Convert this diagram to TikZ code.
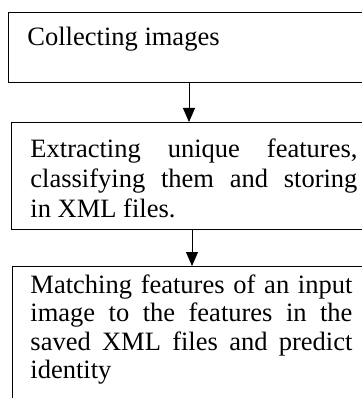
\documentclass[tikz,border=0pt]{standalone}
\usepackage{fontspec}
\setmainfont{Liberation Serif}
\usetikzlibrary{arrows.meta}

\begin{document}
\begin{tikzpicture}[x=1pt, y=-1pt,
					stage/.style={draw, line width=0.9pt, anchor=north west, align=justify,
						inner xsep=19pt, inner ysep=0pt, font=\fontsize{26.5}{30}\selectfont},
					flow/.style={-{Triangle[length=14pt, width=12pt]}, line width=1pt}]

\useasboundingbox (0,0) rectangle (361,398);

\node[stage, text width=327pt, text height=33pt, text depth=37pt] (collect) at (8,12) {Collecting images};
\node[stage, text width=327pt, text height=35pt, text depth=72pt] (extract) at (11,122)
	{Extracting unique features,\linebreak classifying them and storing\linebreak in XML files.};
\node[stage, text width=322pt, inner xsep=18pt, text height=27pt, text depth=115pt,
	font=\fontsize{26.5}{28.5}\selectfont] (match) at (12,266)
	{Matching features of an input\linebreak image to the features in the\linebreak saved XML files and predict\linebreak identity};

\coordinate (c1) at (189,0);
\coordinate (c2) at (192,0);
\draw[flow] (collect.south -| c1) -- (extract.north -| c1);
\draw[flow] (extract.south -| c2) -- (match.north -| c2);
\end{tikzpicture}
\end{document}
